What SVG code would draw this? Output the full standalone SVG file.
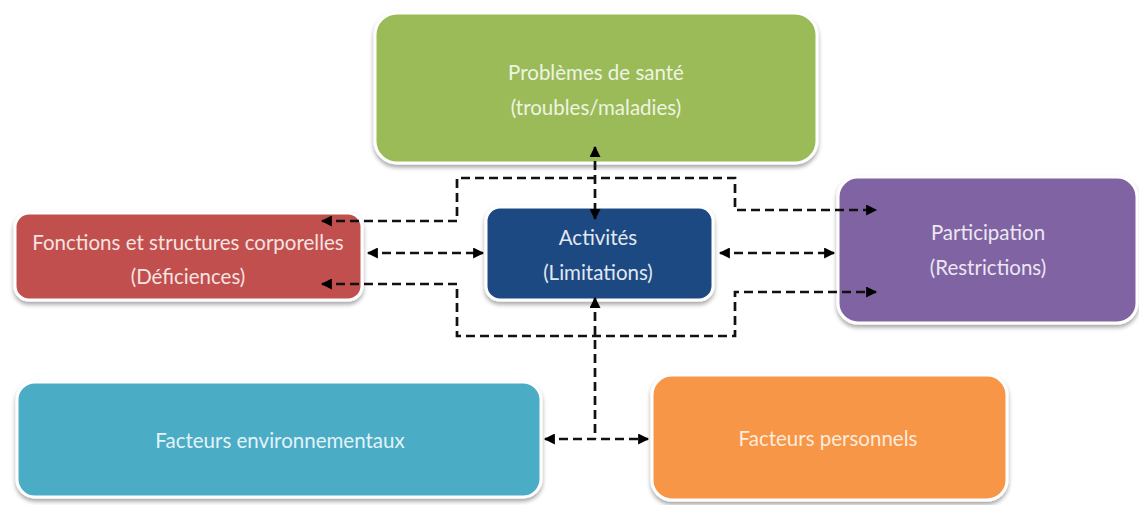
<svg xmlns="http://www.w3.org/2000/svg" width="1139" height="505" viewBox="0 0 1139 505">
<style>
.box{stroke:#ffffff;stroke-width:3;filter:url(#sh)}
.lbl{font-family:Lato,"Liberation Sans",sans-serif;font-size:20.5px;text-anchor:middle;dominant-baseline:central}
.con{fill:none;stroke:#111;stroke-width:2.7;stroke-dasharray:9 5}
</style>
<defs>
<filter id="sh" x="-10%" y="-10%" width="120%" height="130%">
<feDropShadow dx="0" dy="3" stdDeviation="2" flood-color="#000" flood-opacity="0.35"/>
</filter>
<marker id="ah" viewBox="0 0 10 10" refX="9" refY="5" markerWidth="12" markerHeight="11" markerUnits="userSpaceOnUse" orient="auto-start-reverse">
<path d="M0,0 L10,5 L0,10 z" fill="#000"/>
</marker>
</defs>
<rect width="1139" height="505" fill="#ffffff"/>
<g id="sante">
<rect class="box" x="375" y="13" width="442" height="150" rx="22" fill="#9bbb59"/>
<text class="lbl" x="596" y="72" fill="#eef4e2">Problèmes de santé</text>
<text class="lbl" x="596" y="107" fill="#eef4e2">(troubles/maladies)</text>
</g>
<g id="fonctions">
<rect class="box" x="15" y="213" width="347" height="87" rx="14" fill="#c0504d"/>
<text class="lbl" x="188" y="242" fill="#f7e2e1">Fonctions et structures corporelles</text>
<text class="lbl" x="188" y="276" fill="#f7e2e1">(Déficiences)</text>
</g>
<g id="activites">
<rect class="box" x="486" y="207" width="227" height="93" rx="14" fill="#1f4a82"/>
<text class="lbl" x="598" y="237" fill="#e2e8f1">Activités</text>
<text class="lbl" x="598" y="272" fill="#e2e8f1">(Limitations)</text>
</g>
<g id="participation">
<rect class="box" x="838" y="177" width="299" height="146" rx="20" fill="#8064a2"/>
<text class="lbl" x="988" y="232" fill="#ece6f3">Participation</text>
<text class="lbl" x="988" y="267" fill="#ece6f3">(Restrictions)</text>
</g>
<g id="environnement">
<rect class="box" x="17" y="382" width="524" height="115" rx="18" fill="#4bacc6"/>
<text class="lbl" x="280" y="440" fill="#e2f3f8">Facteurs environnementaux</text>
</g>
<g id="personnels">
<rect class="box" x="652" y="375" width="355" height="125" rx="20" fill="#f79646"/>
<text class="lbl" x="828" y="438" fill="#fdebdb">Facteurs personnels</text>
</g>
<g id="connectors">
<path class="con" d="M595,147 V219" marker-start="url(#ah)" marker-end="url(#ah)"/>
<path class="con" d="M322,221 H457 V178 H735 V210 H876" marker-start="url(#ah)" marker-end="url(#ah)"/>
<path class="con" d="M368,253 H483" marker-start="url(#ah)" marker-end="url(#ah)"/>
<path class="con" d="M720,253 H834" marker-start="url(#ah)" marker-end="url(#ah)"/>
<path class="con" d="M322,284 H457 V336 H735 V292 H876" marker-start="url(#ah)" marker-end="url(#ah)"/>
<path class="con" d="M595,298 V439" marker-start="url(#ah)"/>
<path class="con" d="M545,439 H648" marker-start="url(#ah)" marker-end="url(#ah)"/>
</g>
</svg>
